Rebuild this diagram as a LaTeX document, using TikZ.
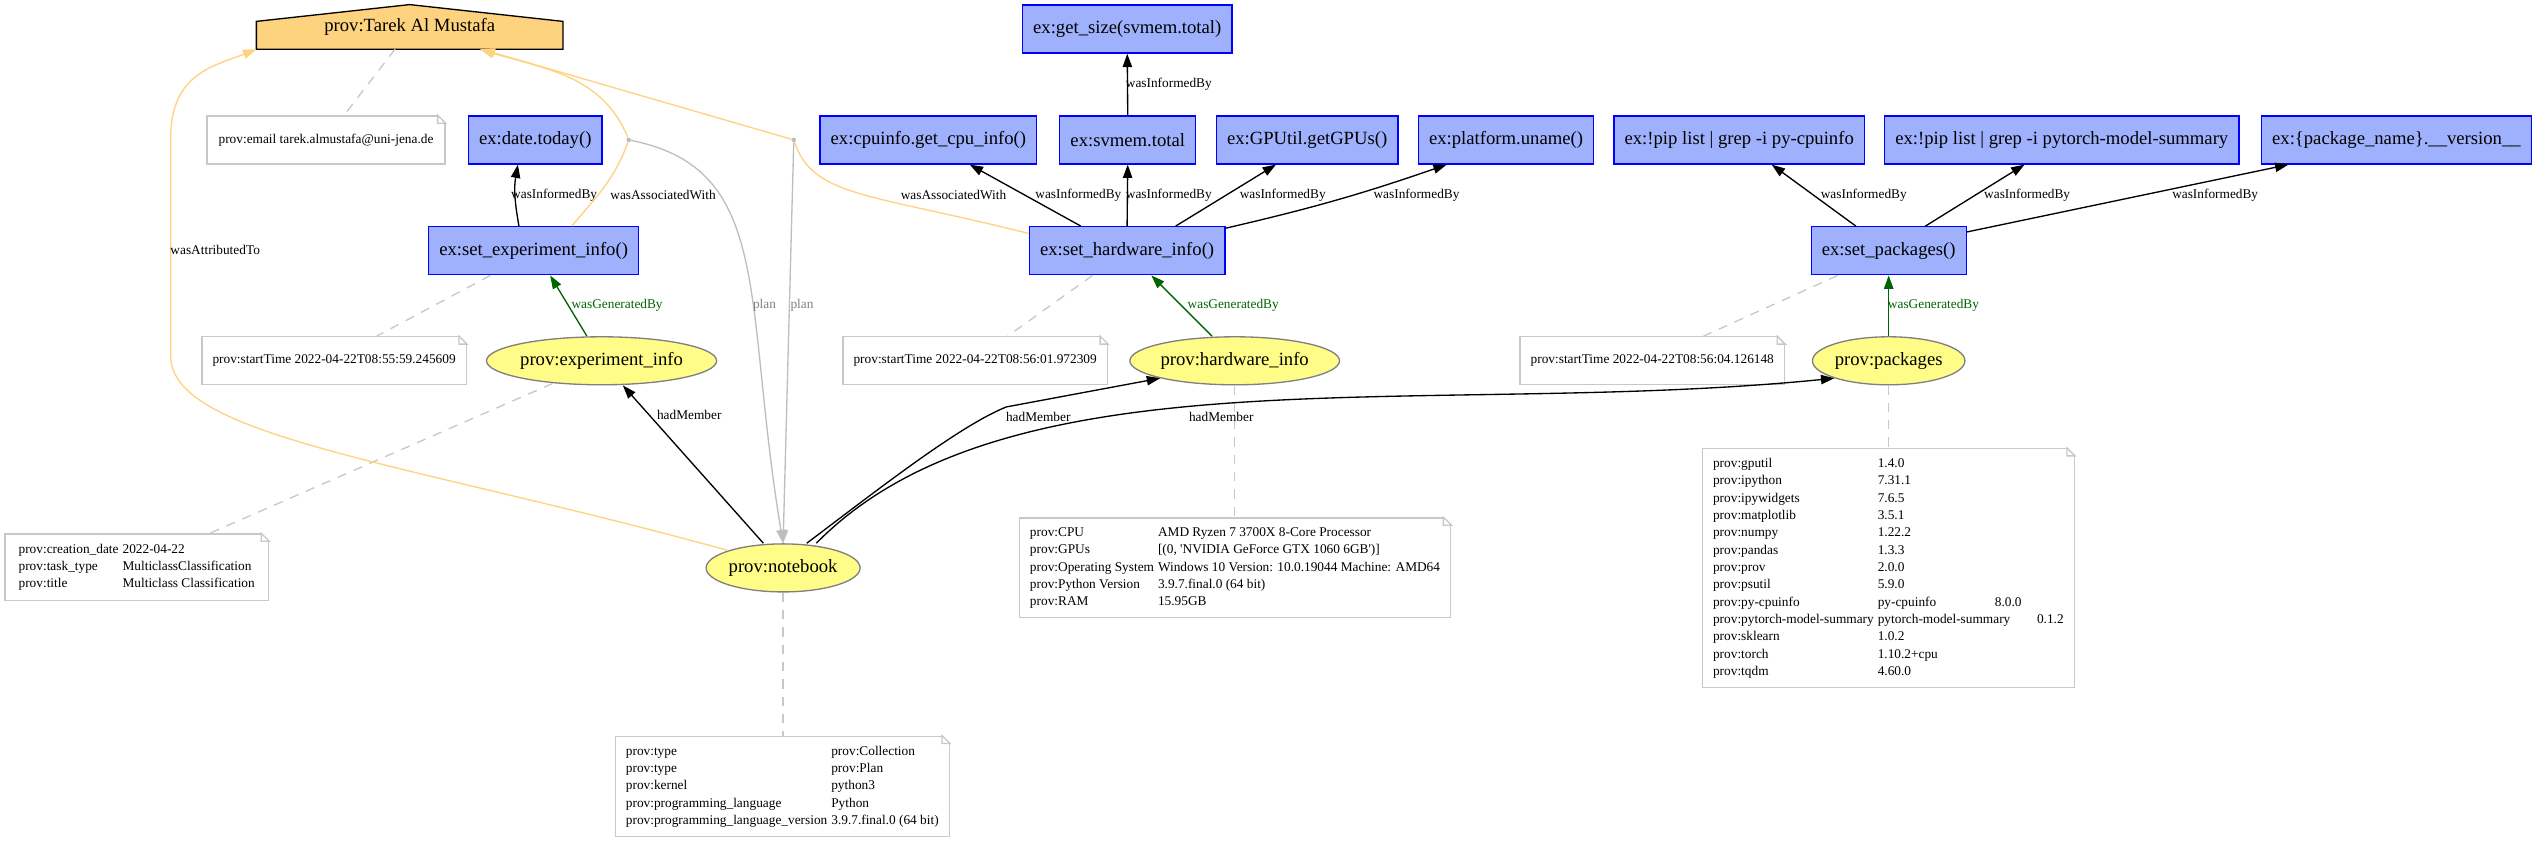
\documentclass[tikz,border=0pt]{standalone}
\usepackage{fontspec}
\setmainfont{Liberation Serif}
\usetikzlibrary{arrows.meta,shapes.geometric,backgrounds}
\definecolor{actfill}{HTML}{9FB1FC}
\definecolor{actline}{HTML}{0000FF}
\definecolor{entfill}{HTML}{FFFC87}
\definecolor{entline}{HTML}{808080}
\definecolor{agentfill}{HTML}{FED37F}
\definecolor{assoc}{HTML}{FED37F}
\definecolor{gen}{HTML}{006400}
\definecolor{notegray}{HTML}{C8C8C8}
\definecolor{plangray}{HTML}{BEBEBE}
\definecolor{plantext}{HTML}{808080}
\setlength{\tabcolsep}{1.5pt}

\begin{document}
\begin{tikzpicture}[x=1.2135pt,y=1.2135pt,
  activity/.style={rectangle,draw=actline,fill=actfill,line width=1pt,minimum height=36pt,inner xsep=8pt,font=\fontsize{14}{16}\selectfont},
  entity/.style={ellipse,draw=entline,fill=entfill,line width=1pt,minimum height=36pt,inner xsep=0pt,inner ysep=0pt,font=\fontsize{14}{16}\selectfont},
  agent/.style={rectangle,inner sep=0pt,minimum width=229.6pt,minimum height=33.1pt,font=\fontsize{14}{16}\selectfont},
  note/.style={rectangle,draw=notegray,fill=white,line width=1pt,inner xsep=8pt,inner ysep=4pt,minimum height=36pt,font=\fontsize{10}{13}\selectfont},
  lbl/.style={font=\fontsize{10}{12}\selectfont,text=black,inner sep=0pt},
  genlbl/.style={lbl,text=gen},
  planlbl/.style={lbl,text=plantext},
  plandot/.style={circle,fill=plangray,inner sep=0pt,minimum size=3.5pt},
  informed/.style={line width=1pt,-{Triangle[length=10pt,width=7pt]}},
  generated/.style={informed,draw=gen},
  assocline/.style={line width=1pt,draw=assoc},
  attributed/.style={assocline,-{Triangle[length=10pt,width=7pt]}},
  planline/.style={line width=1pt,draw=plangray,-{Triangle[length=10pt,width=7pt]}},
  notelink/.style={line width=1pt,draw=notegray,dash pattern=on 7pt off 6pt}]
  \useasboundingbox (0,0) rectangle (1568,520);

  % agent and its note
  \node[agent] (tarek) at (253.2,503.35) {prov:Tarek Al Mustafa};
  \begin{scope}[on background layer]
    \filldraw[fill=agentfill,draw=black,line width=1pt] (tarek.south west) -- ([yshift=-12.6pt]tarek.north west) -- (tarek.north) -- ([yshift=-12.6pt]tarek.north east) -- (tarek.south east) -- cycle;
  \end{scope}
  \node[note,minimum width=178.4pt] (emailnote) at (201.5,433.5) {prov:email tarek.almustafa@uni-jena.de};

  % activities
  \node[activity] (getsize) at (696.7,502) {ex:get\_size(svmem.total)};
  \node[activity] (datetoday) at (330.8,433.5) {ex:date.today()};
  \node[activity] (cpuinfo) at (573.8,433.5) {ex:cpuinfo.get\_cpu\_info()};
  \node[activity] (svmem) at (697,433.5) {ex:svmem.total};
  \node[activity] (gputil) at (807.9,433.5) {ex:GPUtil.getGPUs()};
  \node[activity] (uname) at (930.8,433.5) {ex:platform.uname()};
  \node[activity] (pipcpu) at (1074.9,433.5) {ex:!pip list | grep -i py-cpuinfo};
  \node[activity] (piptorch) at (1274.3,433.5) {ex:!pip list | grep -i pytorch-model-summary};
  \node[activity] (pkgversion) at (1481.1,433.5) {ex:\{package\_name\}.\_\_version\_\_};
  \node[activity] (setexp) at (329.8,365) {ex:set\_experiment\_info()};
  \node[activity] (sethw) at (696.6,365) {ex:set\_hardware\_info()};
  \node[activity] (setpkg) at (1167.3,365) {ex:set\_packages()};
  \node[plandot] (assoc1) at (388.6,433.5) {};
  \node[plandot] (assoc2) at (490.6,433.5) {};

  % start times
  \node[note,minimum width=189.8pt] (exptime) at (206.5,297) {prov:startTime 2022-04-22T08:55:59.245609};
  \node[note,minimum width=190.3pt] (hwtime) at (602.7,297) {prov:startTime 2022-04-22T08:56:01.972309};
  \node[note,minimum width=190.8pt] (pkgtime) at (1021.2,297) {prov:startTime 2022-04-22T08:56:04.126148};

  % entities
  \node[entity] (expinfo) at (371.8,297) {prov:experiment\_info};
  \node[entity] (hwinfo) at (763.1,297) {prov:hardware\_info};
  \node[entity] (packages) at (1167.3,297) {prov:packages};
  \node[entity] (notebook) at (484,169) {prov:notebook};

  % attribute notes
  \node[note,minimum width=197.8pt,minimum height=49.8pt] (expattrs) at (84.5,169.5) {\begin{tabular}{@{}ll@{}}
    prov:creation\_date & 2022-04-22\\
    prov:task\_type & MulticlassClassification\\
    prov:title & Multiclass Classification
  \end{tabular}};
  \node[note,minimum width=318pt,minimum height=74.6pt] (hwattrs) at (763.3,169.2) {\begin{tabular}{@{}ll@{}}
    prov:CPU & AMD Ryzen 7 3700X 8-Core Processor\\
    prov:GPUs & [(0, \textquotesingle NVIDIA GeForce GTX 1060 6GB\textquotesingle)]\\
    prov:Operating System & Windows 10 Version: 10.0.19044 Machine: AMD64\\
    prov:Python Version & 3.9.7.final.0 (64 bit)\\
    prov:RAM & 15.95GB
  \end{tabular}};
  \node[note,minimum width=277.3pt,minimum height=179pt] (pkgattrs) at (1167.1,169) {\begin{tabular}{@{}ll@{}}
    prov:gputil & 1.4.0\\
    prov:ipython & 7.31.1\\
    prov:ipywidgets & 7.6.5\\
    prov:matplotlib & 3.5.1\\
    prov:numpy & 1.22.2\\
    prov:pandas & 1.3.3\\
    prov:prov & 2.0.0\\
    prov:psutil & 5.9.0\\
    prov:py-cpuinfo & py-cpuinfo\hspace{44pt}8.0.0\\
    prov:pytorch-model-summary & pytorch-model-summary\hspace{20pt}0.1.2\\
    prov:sklearn & 1.0.2\\
    prov:torch & 1.10.2+cpu\\
    prov:tqdm & 4.60.0
  \end{tabular}};
  \node[note,minimum width=248.8pt,minimum height=75.2pt] (nbattrs) at (483.5,34) {\begin{tabular}{@{}ll@{}}
    prov:type & prov:Collection\\
    prov:type & prov:Plan\\
    prov:kernel & python3\\
    prov:programming\_language & Python\\
    prov:programming\_language\_version & 3.9.7.final.0 (64 bit)
  \end{tabular}};

  % folded corners of the notes
  \foreach \nt in {emailnote,exptime,hwtime,pkgtime,expattrs,hwattrs,pkgattrs,nbattrs} {
    \fill[white] ([xshift=-7pt,yshift=1pt]\nt.north east) -- ([xshift=1pt,yshift=1pt]\nt.north east) -- ([xshift=1pt,yshift=-7pt]\nt.north east) -- cycle;
    \draw[notegray,line width=1pt] ([xshift=-6pt]\nt.north east) |- ([yshift=-6pt]\nt.north east) -- cycle;
  }

  % dashed links to notes
  \draw[notelink] ([xshift=-11pt]tarek.south) -- ([xshift=13.5pt]emailnote.north);
  \draw[notelink] ([xshift=-32.5pt]setexp.south) -- ([xshift=32pt]exptime.north);
  \draw[notelink] ([xshift=-25.9pt]sethw.south) -- ([xshift=24.3pt]hwtime.north);
  \draw[notelink] ([xshift=-38.2pt]setpkg.south) -- ([xshift=38.4pt]pkgtime.north);
  \draw[notelink] ([xshift=-36.7pt,yshift=1.5pt]expinfo.south) -- ([xshift=55pt]expattrs.north);
  \draw[notelink] (hwinfo.south) -- (hwinfo.south |- hwattrs.north);
  \draw[notelink] (packages.south) -- (packages.south |- pkgattrs.north);
  \draw[notelink] (notebook.south) -- (notebook.south |- nbattrs.north);

  % wasInformedBy
  \draw[informed] ([xshift=-11pt]setexp.north) to[out=100,in=-100] ([xshift=-13pt]datetoday.south) node[lbl] at (342.5,399.5) {wasInformedBy};
  \draw[informed] (svmem.north) -- (getsize.south) node[lbl] at (722.4,468) {wasInformedBy};
  \draw[informed] ([xshift=-34.7pt]sethw.north) -- ([xshift=31pt]cpuinfo.south) node[lbl] at (666.5,399.5) {wasInformedBy};
  \draw[informed] (sethw.north) -- (svmem.south) node[lbl] at (722.4,399.5) {wasInformedBy};
  \draw[informed] ([xshift=36.4pt]sethw.north) -- ([xshift=-23.4pt]gputil.south) node[lbl] at (792.8,399.5) {wasInformedBy};
  \draw[informed] ([yshift=-1.6pt]sethw.north east) to[bend right=3] ([xshift=-44.5pt]uname.south) node[lbl] at (875.5,399.5) {wasInformedBy};
  \draw[informed] ([xshift=-24.6pt]setpkg.north) -- ([xshift=24.4pt]pipcpu.south) node[lbl] at (1151.9,399.5) {wasInformedBy};
  \draw[informed] ([xshift=27.5pt]setpkg.north) -- ([xshift=-28pt]piptorch.south) node[lbl] at (1252.9,399.5) {wasInformedBy};
  \draw[informed] ([yshift=-4.4pt]setpkg.north east) -- ([xshift=-81pt]pkgversion.south) node[lbl] at (1369.1,399.5) {wasInformedBy};

  % wasGeneratedBy
  \draw[generated] ([xshift=-11pt]expinfo.north) -- ([xshift=12.4pt]setexp.south) node[genlbl] at (381.4,331.5) {wasGeneratedBy};
  \draw[generated] ([xshift=-17pt]hwinfo.north) -- ([xshift=18.2pt]sethw.south) node[genlbl] at (762.2,331.5) {wasGeneratedBy};
  \draw[generated] (packages.north) -- (setpkg.south) node[genlbl] at (1195,331.5) {wasGeneratedBy};

  % wasAssociatedWith, with plan
  \draw[assocline] ([xshift=28.6pt]setexp.north) to[out=50,in=-110] (assoc1) node[lbl] at (409.8,399.5) {wasAssociatedWith};
  \draw[attributed] (assoc1) to[out=112,in=-17] ([xshift=52.7pt]tarek.south);
  \draw[planline] (assoc1) .. controls +(90,-18) and +(-25,150) .. (notebook.north) node[planlbl] at (472.5,331.5) {plan};
  \draw[assocline] ([yshift=13pt]sethw.west) .. controls +(-100,25) and +(12,-35) .. (assoc2) node[lbl] at (589.3,399.5) {wasAssociatedWith};
  \draw[attributed] (assoc2) -- ([xshift=54pt]tarek.south);
  \draw[planline] (assoc2) -- (notebook.north) node[planlbl] at (495.7,331.5) {plan};

  % hadMember
  \draw[informed] ([xshift=-14.8pt]notebook.north) -- ([xshift=16pt]expinfo.south) node[lbl] at (426,263.5) {hadMember};
  \draw[informed] ([xshift=17.7pt]notebook.north) .. controls +(40,30) and +(-30,-12) .. (622,268.5) -- (hwinfo.south west) node[lbl] at (641.7,262.5) {hadMember};
  \draw[informed] ([xshift=24.9pt]notebook.north) .. controls +(120,122) and +(-250,-25) .. (packages.south west) node[lbl] at (754.8,262.5) {hadMember};

  % wasAttributedTo
  \draw[attributed] (notebook.north west) .. controls +(-200,55) and +(0,-50) .. (105.5,300) -- (105.5,435) .. controls +(0,40) and +(-25,-10) .. (tarek.south west) node[lbl] at (133,365.5) {wasAttributedTo};
\end{tikzpicture}
\end{document}
